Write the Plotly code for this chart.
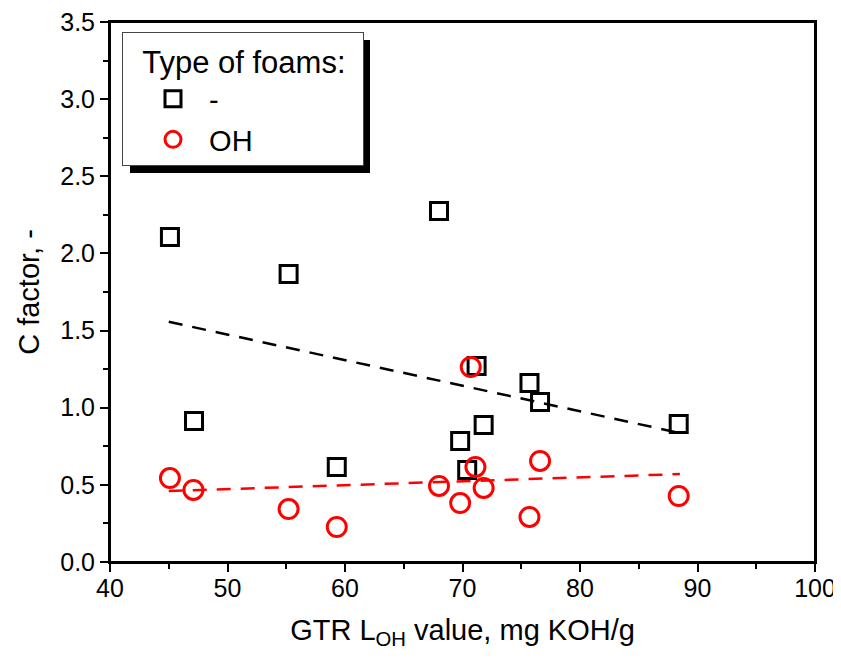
import plotly.graph_objects as go

# GTR L_OH value (x) and C factor (y) for the two foam types
x_plain = [45.1, 47.15, 55.2, 59.3, 68.0, 69.8, 70.4, 71.2, 71.8, 75.7, 76.6, 88.4]
y_plain = [2.106, 0.914, 1.866, 0.616, 2.275, 0.784, 0.596, 1.27, 0.888, 1.16, 1.037, 0.894]

x_oh = [45.1, 47.1, 55.2, 59.3, 68.0, 69.8, 70.7, 71.1, 71.8, 75.7, 76.6, 88.4]
y_oh = [0.544, 0.467, 0.343, 0.227, 0.493, 0.382, 1.264, 0.616, 0.48, 0.292, 0.655, 0.428]

# linear trend lines (endpoints)
trend_x_plain = [45.0, 88.5]
trend_y_plain = [1.557, 0.836]
trend_x_oh = [45.0, 88.5]
trend_y_oh = [0.46, 0.57]

FONT = "Liberation Sans, Arial, sans-serif"
NB = "\u00a0"
OFF = 8  # page body margin

fig = go.Figure()
fig.add_trace(go.Scatter(x=trend_x_plain, y=trend_y_plain, mode="lines",
                         line=dict(color="black", width=2.5, dash="14px,10px"),
                         showlegend=False, hoverinfo="skip"))
fig.add_trace(go.Scatter(x=trend_x_oh, y=trend_y_oh, mode="lines",
                         line=dict(color="red", width=2.5, dash="14px,10px"),
                         showlegend=False, hoverinfo="skip"))
fig.add_trace(go.Scatter(x=x_plain, y=y_plain, mode="markers", name=NB * 2 + "-",
                         marker=dict(symbol="square-open", size=17, color="black",
                                     line=dict(width=3))))
fig.add_trace(go.Scatter(x=x_oh, y=y_oh, mode="markers", name=NB * 2 + "OH",
                         marker=dict(symbol="circle-open", size=19, color="red",
                                     line=dict(width=3))))

# plot area in screen pixels
L, T, R, B = 110, 22, 815, 562
def px(xp):
    return (xp - L) / (R - L)
def py(yp):
    return (B - yp) / (B - T)

# legend drop shadow
fig.add_shape(type="rect", xref="paper", yref="paper",
              x0=px(130), x1=px(370), y0=py(173), y1=py(40),
              fillcolor="black", line=dict(width=0), layer="below")
# full frame around the plot area
fig.add_shape(type="rect", xref="paper", yref="paper",
              x0=0, x1=1, y0=0, y1=1,
              line=dict(color="black", width=2), fillcolor="rgba(0,0,0,0)",
              layer="above")

W, H = 841, 663
fig.update_layout(
    width=W, height=H,
    margin=dict(l=L - OFF, r=W - R + OFF, t=T - OFF, b=H - B + OFF),
    paper_bgcolor="white", plot_bgcolor="white",
    font=dict(family=FONT, color="black", size=24),
    legend=dict(
        x=px(122), y=py(32), xanchor="left", yanchor="top",
        bgcolor="white", bordercolor="#444", borderwidth=1,
        title=dict(text=NB * 2 + "Type of foams:" + NB + "\u2009", font=dict(size=31)),
        font=dict(size=29),
        indentation=30,
        itemsizing="trace",
    ),
    showlegend=True,
)

fig.update_xaxes(
    range=[40, 100], dtick=10, tick0=40, automargin=False,
    showline=True, linecolor="black", linewidth=2, mirror=True,
    ticks="outside", ticklen=8, tickwidth=2, tickcolor="black",
    minor=dict(dtick=5, ticks="outside", ticklen=5, tickwidth=2, tickcolor="black"),
    showgrid=False, zeroline=False,
    tickfont=dict(size=25), ticklabelstandoff=-5, ticklabeloverflow="allow",
    title=dict(text="GTR L<sub>OH</sub> value, mg KOH/g", font=dict(size=29), standoff=19),
)
fig.update_yaxes(
    range=[0, 3.5], dtick=0.5, tick0=0, tickformat=".1f", automargin=False,
    showline=True, linecolor="black", linewidth=2, mirror=True,
    ticks="outside", ticklen=8, tickwidth=2, tickcolor="black",
    minor=dict(dtick=0.25, ticks="outside", ticklen=5, tickwidth=2, tickcolor="black"),
    showgrid=False, zeroline=False,
    tickfont=dict(size=25), ticklabeloverflow="allow",
    title=dict(text="C factor, -", font=dict(size=29), standoff=12),
)

fig.write_html("out.html", config={"displayModeBar": False})
